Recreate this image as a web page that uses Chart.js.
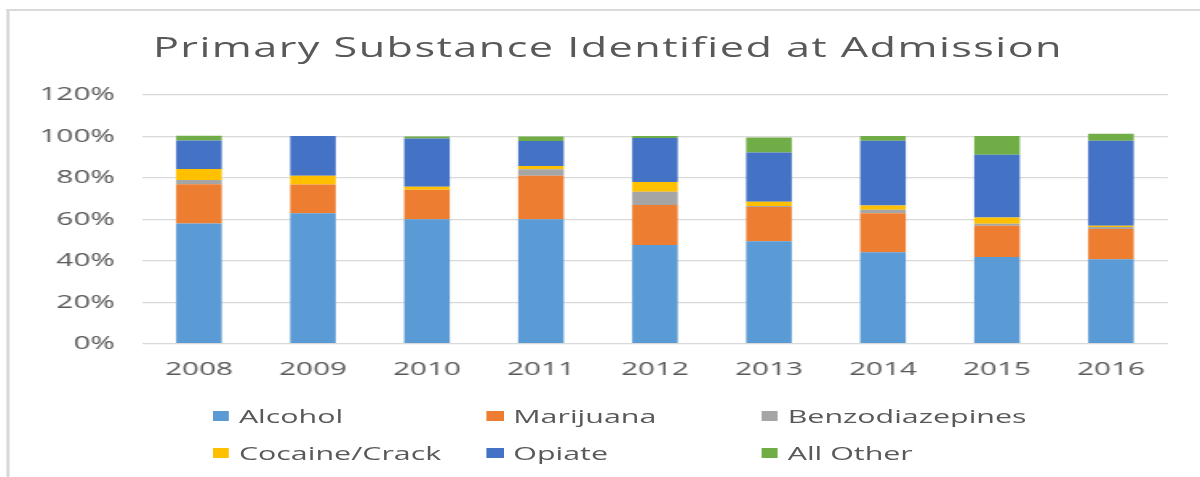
<!DOCTYPE html>
<html>
<head>
<meta charset="utf-8">
<script src="https://cdn.jsdelivr.net/npm/chart.js@4/dist/chart.umd.min.js"></script>
<style>
  html, body { margin:0; padding:0; background:#fff; overflow:hidden; width:1200px; height:477px; }
  #wrap { position:absolute; left:0; top:0; width:750px; height:477px; transform:scaleX(1.6); transform-origin:0 0; }
  #frame { position:absolute; left:4px; top:9px; width:800px; height:500px; border-left:2.5px solid #d9d9d9; border-top:2px solid #d9d9d9; }
  #title { position:absolute; left:0; width:760px; top:33px; text-align:center; font-family:"Open Sans", sans-serif; font-weight:400; font-size:27px; line-height:27px; letter-spacing:0.9px; color:#595959; white-space:nowrap; }
  canvas { position:absolute; left:0; top:0; }
  .lg { position:absolute; display:flex; align-items:center; height:20px; font-family:"Open Sans", sans-serif; font-size:19px; color:#595959; white-space:nowrap; }
  .lg span.box { display:inline-block; width:10.8px; height:10px; margin-right:6px; }
</style>
</head>
<body>
<div id="wrap">
  <div id="frame"></div>
  <div id="title">Primary Substance Identified at Admission</div>
  <canvas id="c" width="750" height="477"></canvas>
  <div id="legend"></div>
</div>
<script>
const years = ["2008","2009","2010","2011","2012","2013","2014","2015","2016"];
const seriesNames = ["Alcohol","Marijuana","Benzodiazepines","Cocaine/Crack","Opiate","All Other"];
const seriesColors = ["#5B9BD5","#ED7D31","#A5A5A5","#FFC000","#4472C4","#70AD47"];
const alcohol   = [58, 63, 60, 60, 47.6, 49.4, 44.1, 41.8, 40.8];
const marijuana = [18.9, 13.8, 14.3, 21, 19.3, 16.5, 18.9, 15.1, 14.5];
const benzo     = [2.1, 0, 0, 3.2, 6.4, 0.5, 1.6, 1.0, 1.0];
const cocaine   = [5.3, 4.2, 1.4, 1.6, 4.7, 2.1, 2.1, 3.0, 0.6];
const opiate    = [13.7, 19.2, 23.3, 12, 21.2, 23.8, 31.2, 30.3, 41];
const allOther  = [2.3, 0, 1, 2.2, 1, 7.2, 2.3, 9, 3.4];
const seriesValues = [alcohol, marijuana, benzo, cocaine, opiate, allOther];
const yTicks = [0, 20, 40, 60, 80, 100, 120];

const textColor = "#595959";
const gridColor = "#d9d9d9";

const datasets = seriesNames.map((n, i) => ({
  label: n,
  data: seriesValues[i],
  backgroundColor: seriesColors[i],
  borderWidth: 0,
  categoryPercentage: 1.0,
  barPercentage: 0.4
}));

new Chart(document.getElementById("c"), {
  type: "bar",
  data: { labels: years, datasets },
  options: {
    responsive: false,
    animation: false,
    devicePixelRatio: 1,
    layout: { padding: { top: 95, left: 0, right: 20, bottom: 477 - 343.7 - 40 } },
    plugins: { legend: { display: false }, title: { display: false }, tooltip: { enabled: false } },
    scales: {
      x: {
        stacked: true,
        grid: { display: false, drawTicks: false },
        border: { display: false },
        ticks: { color: textColor, font: { family: "Open Sans", size: 18.5 }, padding: 15, maxRotation: 0 },
        afterFit: s => { s.height = 40; }
      },
      y: {
        stacked: true,
        min: 0, max: 120,
        afterBuildTicks: s => { s.ticks = yTicks.map(v => ({ value: v })); },
        grid: { color: gridColor, lineWidth: 1.2, drawTicks: false },
        border: { display: false },
        ticks: { color: textColor, font: { family: "Open Sans", size: 18.5 }, padding: 17, callback: v => v + "%" },
        afterFit: s => { s.width = 88.75; }
      }
    }
  }
});

const lg = document.getElementById("legend");
seriesNames.forEach((n, i) => {
  const col = i % 3, row = Math.floor(i / 3);
  const d = document.createElement("div");
  d.className = "lg";
  d.style.left = (132.5 + col * 171.5) + "px";
  d.style.top = (406 + row * 37) + "px";
  const b = document.createElement("span");
  b.className = "box";
  b.style.background = seriesColors[i];
  d.appendChild(b);
  d.appendChild(document.createTextNode(n));
  lg.appendChild(d);
});
</script>
</body>
</html>
